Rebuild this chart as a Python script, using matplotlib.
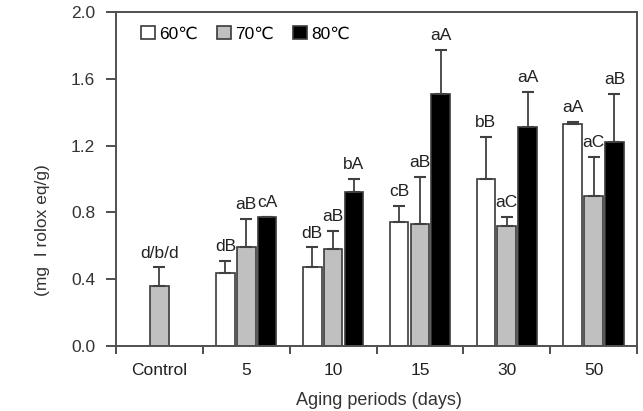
import numpy as np
import matplotlib
matplotlib.use('Agg')
from matplotlib import pyplot as plt
from matplotlib.patches import Patch

plt.rcParams['font.family'] = ['Liberation Sans', 'DejaVu Sans']

categories = ['Control', '5', '10', '15', '30', '50']
v60 = [np.nan, 0.44, 0.47, 0.74, 1.00, 1.33]
e60 = [np.nan, 0.07, 0.12, 0.10, 0.25, 0.01]
v70 = [0.36, 0.59, 0.58, 0.73, 0.72, 0.90]
e70 = [0.11, 0.17, 0.11, 0.28, 0.05, 0.23]
v80 = [np.nan, 0.77, 0.92, 1.51, 1.31, 1.22]
e80 = [np.nan, 0.005, 0.08, 0.26, 0.21, 0.29]
l60 = ['', 'dB', 'dB', 'cB', 'bB', 'aA']
l70 = ['d/b/d', 'aB', 'aB', 'aB', 'aC', 'aC']
l80 = ['', 'cA', 'bA', 'aA', 'aA', 'aB']
series = ['60\u2103', '70\u2103', '80\u2103']

fig = plt.figure(figsize=(6.43, 4.11), dpi=100)
ax = fig.add_axes([0.1804, 0.1582, 0.8103, 0.8126])

x = np.arange(len(categories))
w = 0.215
step = 0.24
edge = '#3a3a3a'
fs = 12.5

groups = [(v60, e60, l60, 'white', -step),
          (v70, e70, l70, '#c0c0c0', 0),
          (v80, e80, l80, 'black', step)]
for vals, errs, labs, col, off in groups:
    vals = np.array(vals)
    errs = np.array(errs)
    ax.bar(x + off, vals, w, color=col, edgecolor=edge, linewidth=1.2, zorder=2)
    ax.errorbar(x + off, vals, yerr=[np.zeros_like(errs), errs], fmt='none',
                ecolor='#404040', elinewidth=1.3, capsize=4, capthick=1.5, zorder=3)
    for xi, v, e, t in zip(x + off, vals, errs, labs):
        if t:
            ax.annotate(t, (xi, v + e), xytext=(0, 5), textcoords='offset points',
                        ha='center', va='bottom', fontsize=fs, color='#222222')

ax.set_xlim(-0.5, len(categories) - 0.5)
ax.set_ylim(0, 2.0)
ax.set_yticks(np.arange(0, 2.01, 0.4))
ax.set_yticklabels(['%.1f' % t for t in np.arange(0, 2.01, 0.4)], fontsize=fs, color='#333333')
ax.set_xticks(np.arange(-0.5, len(categories), 1.0))
ax.set_xticklabels([])
ax.set_xticks(x, minor=True)
ax.set_xticklabels(categories, minor=True, fontsize=fs, color='#222222')
ax.tick_params(axis='x', which='major', direction='out', length=6, width=1.3, color='#404040')
ax.tick_params(axis='x', which='minor', length=0, pad=12)
ax.tick_params(axis='y', direction='out', length=7, width=1.3, color='#404040', pad=8)
for s in ax.spines.values():
    s.set_color('#505050')
    s.set_linewidth(1.4)

handles = [Patch(facecolor=c, edgecolor=edge, linewidth=1.2) for c in ['white', '#c0c0c0', 'black']]
ax.legend(handles, series, loc='upper left', bbox_to_anchor=(0.035, 0.98), ncol=3,
          frameon=False, fontsize=fs, handlelength=0.8, handleheight=0.8,
          handletextpad=0.25, columnspacing=1.1, borderaxespad=0)

fig.text(0.066, 0.44, '(mg  I rolox eq/g)', rotation=90, ha='center', va='center',
         fontsize=fs, color='#333333')
fig.text(0.59, 0.025, 'Aging periods (days)', ha='center', va='center',
         fontsize=fs + 0.5, color='#333333')

plt.savefig('out.png', dpi=100)
